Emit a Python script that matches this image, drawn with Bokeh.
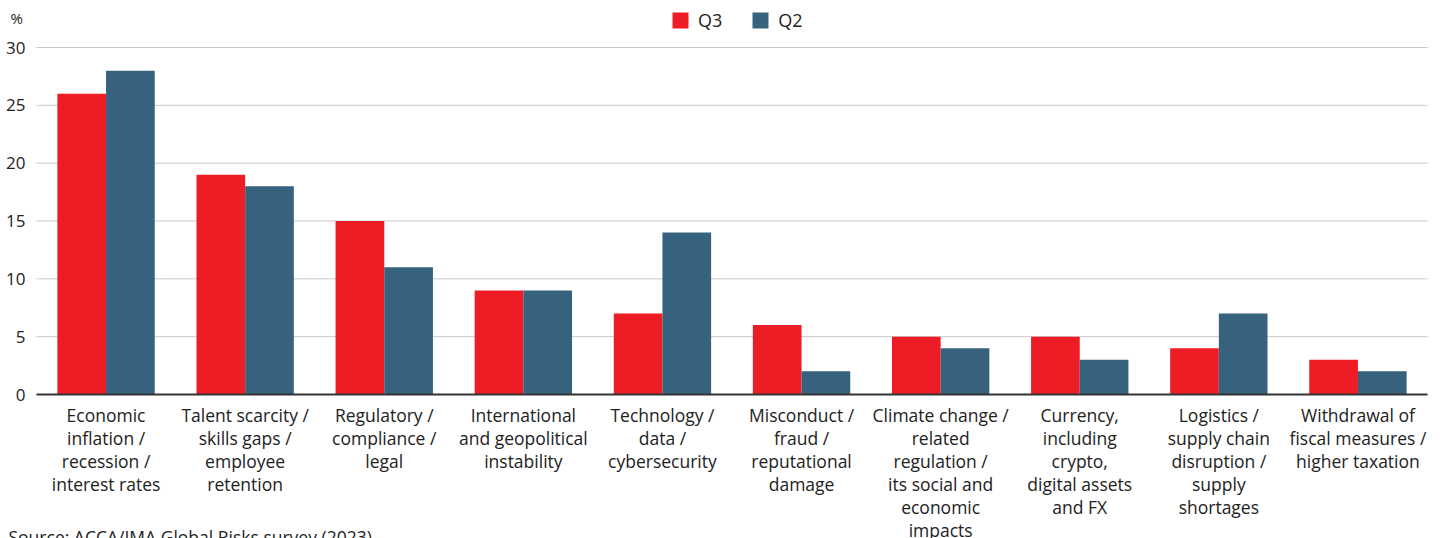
from bokeh.plotting import figure
from bokeh.models import Range1d, Label, Legend, LegendItem, ColumnDataSource
from bokeh.transform import dodge
from bokeh.core.properties import value
from bokeh.embed import file_html
from bokeh.resources import INLINE

categories = [
    "Economic\ninflation /\nrecession /\ninterest rates",
    "Talent scarcity /\nskills gaps /\nemployee\nretention",
    "Regulatory /\ncompliance /\nlegal",
    "International\nand geopolitical\ninstability",
    "Technology /\ndata /\ncybersecurity",
    "Misconduct /\nfraud /\nreputational\ndamage",
    "Climate change /\nrelated\nregulation /\nits social and\neconomic\nimpacts",
    "Currency,\nincluding\ncrypto,\ndigital assets\nand FX",
    "Logistics /\nsupply chain\ndisruption /\nsupply\nshortages",
    "Withdrawal of\nfiscal measures /\nhigher taxation",
]
q3 = [26, 19, 15, 9, 7, 6, 5, 5, 4, 3]
q2 = [28, 18, 11, 9, 14, 2, 4, 3, 7, 2]
y_ticks = [0, 5, 10, 15, 20, 25, 30]

RED = "#ee1d25"
BLUE = "#36627d"
FONT = "Open Sans"
TXT = "#222222"

W, H = 1441, 538
LEFT, RIGHT, TOP, BOTTOM = 36, 14, 47, 144   # plot-area margins in px
n = len(categories)
ymax = y_ticks[-1]
px_x = (W - LEFT - RIGHT) / n
px_y = (H - TOP - BOTTOM) / ymax

p = figure(
    x_range=Range1d(-LEFT / px_x, n + RIGHT / px_x),
    y_range=Range1d(-BOTTOM / px_y, ymax + TOP / px_y),
    width=W, height=H, min_border=0,
    x_axis_location=None, y_axis_location=None,
    output_backend="svg", toolbar_location=None,
)
p.outline_line_color = None
p.background_fill_color = "white"
p.border_fill_color = "white"
p.grid.visible = False
for g in p.grid:
    g.grid_line_color = None

centers = [i + 0.5 for i in range(n)]
src = ColumnDataSource(dict(x=centers, q3=q3, q2=q2))

# gridlines
grid = ColumnDataSource(dict(y=y_ticks[1:], x0=[0] * (len(y_ticks) - 1), x1=[n] * (len(y_ticks) - 1)))
p.segment(x0="x0", x1="x1", y0="y", y1="y", source=grid, line_color="#c8c8c8", line_width=1)

r3 = p.vbar(x=dodge("x", -0.175), top="q3", width=0.35, source=src, fill_color=RED, line_color=None)
r2 = p.vbar(x=dodge("x", 0.175), top="q2", width=0.35, source=src, fill_color=BLUE, line_color=None)

# baseline (x axis)
p.segment(x0=[0], x1=[n], y0=[y_ticks[0]], y1=[y_ticks[0]], line_color="#333333", line_width=2)

# y tick labels
yl = ColumnDataSource(dict(x=[0] * len(y_ticks), y=y_ticks, t=[str(v) for v in y_ticks]))
p.text(x="x", y="y", text="t", source=yl, x_offset=-11, text_align="right", text_baseline="middle",
       text_font=value(FONT), text_font_size="17px", text_color=TXT)

# category labels, line by line, centred
lx, ly, lt, lo = [], [], [], []
for i, cat in enumerate(categories):
    for j, line in enumerate(cat.split("\n")):
        lx.append(centers[i]); ly.append(0); lt.append(line); lo.append(20 + 23 * j)
cl = ColumnDataSource(dict(x=lx, y=ly, t=lt, off=lo))
p.text(x="x", y="y", text="t", y_offset="off", source=cl, text_align="center",
       text_baseline="alphabetic", text_font=value(FONT), text_font_size="17.5px", text_color=TXT)

legend = Legend(
    items=[LegendItem(label="Q3", renderers=[r3]), LegendItem(label="Q2", renderers=[r2])],
    orientation="horizontal",
    location=(670, H - 32),
    label_text_font=FONT, label_text_font_size="18px", label_text_color=TXT,
    glyph_width=20, glyph_height=20, spacing=28, label_standoff=8,
    border_line_color=None, background_fill_alpha=0,
    padding=0, margin=0,
)
p.add_layout(legend, "center")

p.add_layout(Label(x=10, y=H - 17, x_units="screen", y_units="screen", text="%",
                   text_font=FONT, text_font_size="15px", text_color=TXT,
                   text_baseline="alphabetic"))
p.add_layout(Label(x=8, y=2, x_units="screen", y_units="screen",
                   text="Source: ACCA/IMA Global Risks survey (2023)",
                   text_font=FONT, text_font_size="17.5px", text_color=TXT,
                   text_baseline="alphabetic"))

open("out.html", "w").write(file_html(p, INLINE))
